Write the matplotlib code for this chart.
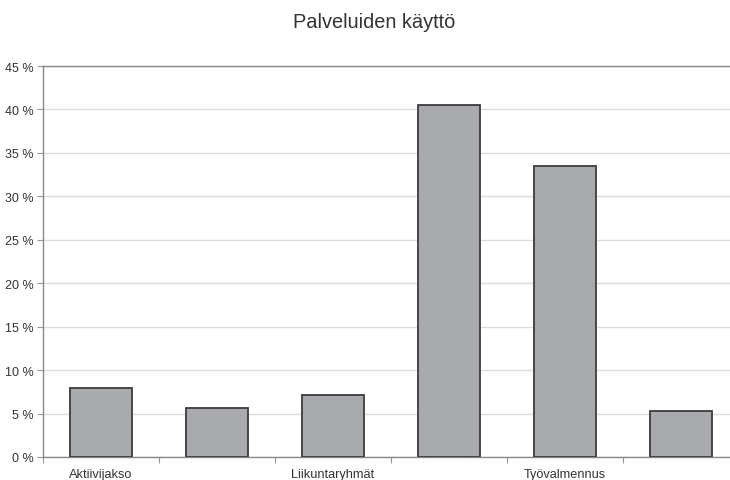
import matplotlib
matplotlib.use("Agg")
import matplotlib.pyplot as plt
from matplotlib.ticker import MultipleLocator, FixedLocator, FuncFormatter

plt.rcParams['font.family'] = ['Liberation Sans', 'DejaVu Sans']

# Share of respondents using each service (%)
tick_labels = ["Aktiivijakso", "", "Liikuntaryhmät", "", "Työvalmennus", ""]
usage_pct = [7.9, 5.6, 7.1, 40.5, 33.5, 5.3]
title = "Palveluiden käyttö"

W, H = 730, 481
fig = plt.figure(figsize=(W / 100, H / 100), dpi=100)
# plot area runs slightly past the right edge of the canvas
ax = fig.add_axes([43 / W, (H - 458) / H, 696 / W, 391 / H])

text_color = "#333333"
x = range(len(usage_pct))
ax.bar(x, usage_pct, width=0.53, color="#a9aaae", edgecolor="#3c3c3c",
       linewidth=1.3, zorder=3)

ax.set_xlim(-0.5, len(usage_pct) - 0.5)
ax.set_ylim(0, 45)
ax.yaxis.set_major_locator(MultipleLocator(5))
ax.yaxis.set_major_formatter(FuncFormatter(lambda v, p: f"{int(round(v))} %"))
ax.grid(axis="y", color="#dcdcdc", linewidth=1.0, zorder=0)

ax.xaxis.set_major_locator(FixedLocator(list(x)))
ax.set_xticklabels(tick_labels)
ax.xaxis.set_minor_locator(FixedLocator([i - 0.5 for i in range(len(usage_pct) + 1)]))
ax.tick_params(axis="x", which="major", length=0, pad=8, labelsize=9.2,
               labelcolor=text_color)
ax.tick_params(axis="x", which="minor", length=4, color="#999999", width=0.8)
ax.tick_params(axis="y", length=4, color="#999999", width=0.8, labelsize=9,
               labelcolor=text_color, pad=3)

for side in ["left", "bottom", "top"]:
    ax.spines[side].set_color("#888888")
    ax.spines[side].set_linewidth(1.0)
ax.spines["right"].set_visible(False)

fig.text(374 / W, 1 - 22 / H, title, ha="center", va="center",
         fontsize=14.4, color=text_color)

fig.savefig("out.png", dpi=100)
